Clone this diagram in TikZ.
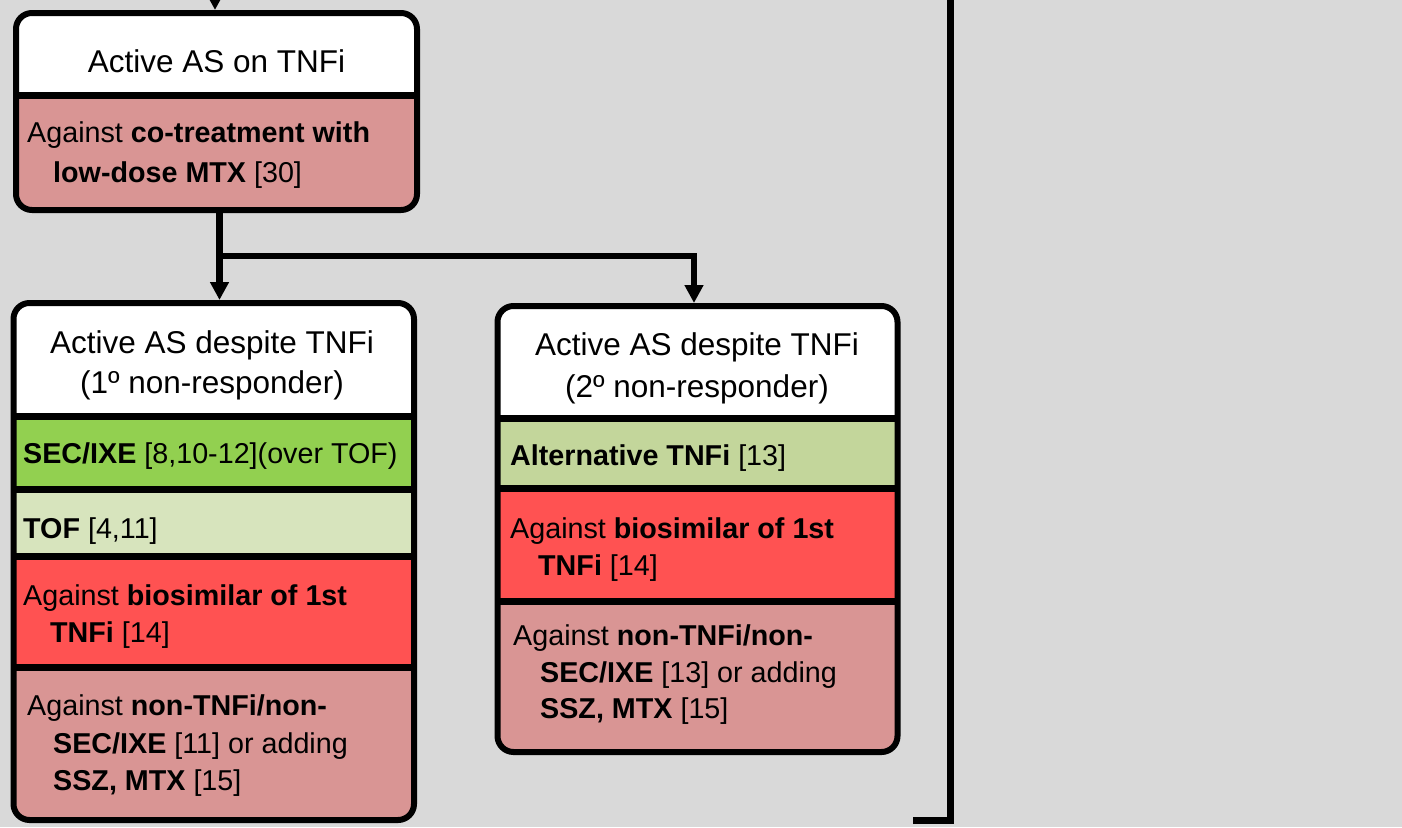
\documentclass[tikz,border=0pt]{standalone}
\usepackage{fontspec}
\setmainfont{Liberation Sans}
\usetikzlibrary{arrows.meta}
\definecolor{bgc}{RGB}{217,217,217}
\definecolor{pinkc}{RGB}{217,149,148}
\definecolor{redc}{RGB}{255,82,82}
\definecolor{greenc}{RGB}{146,208,80}
\definecolor{tofc}{RGB}{215,228,189}
\definecolor{olivec}{RGB}{195,214,155}
\tikzset{
  boxframe/.style={draw=black, line width=6pt, rounded corners=16pt, inner sep=0pt, fill=none},
  divider/.style={draw=black, line width=7pt},
  conn/.style={draw=black, line width=6.5pt, -{Triangle[width=18pt,length=18pt]}},
  rline/.style={draw=black, line width=7pt},
  hd/.style={anchor=base, inner sep=0pt, font=\fontsize{31.5}{40}\selectfont},
  bd/.style={anchor=base west, inner sep=0pt, font=\fontsize{28.7}{37.5}\selectfont}
}
\begin{document}
\begin{tikzpicture}[x=1pt,y=-1pt]
\useasboundingbox (0,0) rectangle (1402,827);
\fill[bgc] (0,0) rectangle (1402,827);

% ---------- Box 1 ----------
\begin{scope}
\clip[rounded corners=16pt] (16,13) rectangle (417,210);
\fill[white] (16,13) rectangle (417,95);
\fill[pinkc] (16,95) rectangle (417,210);
\end{scope}
\draw[divider] (16,95) -- (417,95);
\node[boxframe, minimum width=401pt, minimum height=197pt] (b1) at (216.5,111.5) {};
\node[hd] (t1) at (216.5,72) {Active AS on TNFi};
\node[bd] (t1a) at (27,142) {Against \textbf{co-treatment with}};
\node[bd] (t1b) at (53,182) {\textbf{low-dose MTX} [30]};

% ---------- Box 2 ----------
\begin{scope}
\clip[rounded corners=16pt] (13.5,303) rectangle (414,820);
\fill[white] (13.5,303) rectangle (414,416);
\fill[greenc] (13.5,416) rectangle (414,489);
\fill[tofc] (13.5,489) rectangle (414,556);
\fill[redc] (13.5,556) rectangle (414,667);
\fill[pinkc] (13.5,667) rectangle (414,820);
\end{scope}
\draw[divider] (13.5,416) -- (414,416);
\draw[divider] (13.5,489) -- (414,489);
\draw[divider] (13.5,556) -- (414,556);
\draw[divider] (13.5,667) -- (414,667);
\node[boxframe, minimum width=400.5pt, minimum height=517pt] (b2) at (213.75,561.5) {};
\node[hd] (t2h1) at (212,353) {Active AS despite TNFi};
\node[hd] (t2h2) at (212,393) {(1º non-responder)};
\node[bd] (t2a) at (23,463) {\textbf{SEC/IXE} [8,10-12](over TOF)};
\node[bd] (t2b) at (23,538) {\textbf{TOF} [4,11]};
\node[bd] (t2c) at (23,605) {Against \textbf{biosimilar of 1st}};
\node[bd] (t2d) at (50,642) {\textbf{TNFi} [14]};
\node[bd] (t2e) at (27,715) {Against \textbf{non-TNFi/non-}};
\node[bd] (t2f) at (53,753) {\textbf{SEC/IXE} [11] or adding};
\node[bd] (t2g) at (53,790) {\textbf{SSZ, MTX} [15]};

% ---------- Box 3 ----------
\begin{scope}
\clip[rounded corners=16pt] (497.5,306) rectangle (897.5,752);
\fill[white] (497.5,306) rectangle (897.5,418);
\fill[olivec] (497.5,418) rectangle (897.5,488.5);
\fill[redc] (497.5,488.5) rectangle (897.5,601);
\fill[pinkc] (497.5,601) rectangle (897.5,752);
\end{scope}
\draw[divider] (497.5,418) -- (897.5,418);
\draw[divider] (497.5,488.5) -- (897.5,488.5);
\draw[divider] (497.5,601) -- (897.5,601);
\node[boxframe, minimum width=400pt, minimum height=446pt] (b3) at (697.5,529) {};
\node[hd] (t3h1) at (697,355) {Active AS despite TNFi};
\node[hd] (t3h2) at (697,397) {(2º non-responder)};
\node[bd] (t3a) at (510,465) {\textbf{Alternative TNFi} [13]};
\node[bd] (t3b) at (510,538) {Against \textbf{biosimilar of 1st}};
\node[bd] (t3c) at (538,575) {\textbf{TNFi} [14]};
\node[bd] (t3d) at (513,645) {Against \textbf{non-TNFi/non-}};
\node[bd] (t3e) at (540,682) {\textbf{SEC/IXE} [13] or adding};
\node[bd] (t3f) at (540,718) {\textbf{SSZ, MTX} [15]};

% ---------- Connectors ----------
\coordinate (in) at (215,-30);
\draw[conn] (in) -- (b1.north -| in);
\coordinate (j1) at (219.5,256);
\draw[conn] ([xshift=3pt]b1.south) -- (j1) -- (b2.north -| j1);
\draw[conn] (j1) -| ([xshift=-3.5pt]b3.north);

\coordinate (r0) at (950,-10);
\coordinate (r1) at (950,820);
\coordinate (r2) at (913,820);
\draw[rline] (r0) -- (r1) -- (r2);
\end{tikzpicture}
\end{document}
